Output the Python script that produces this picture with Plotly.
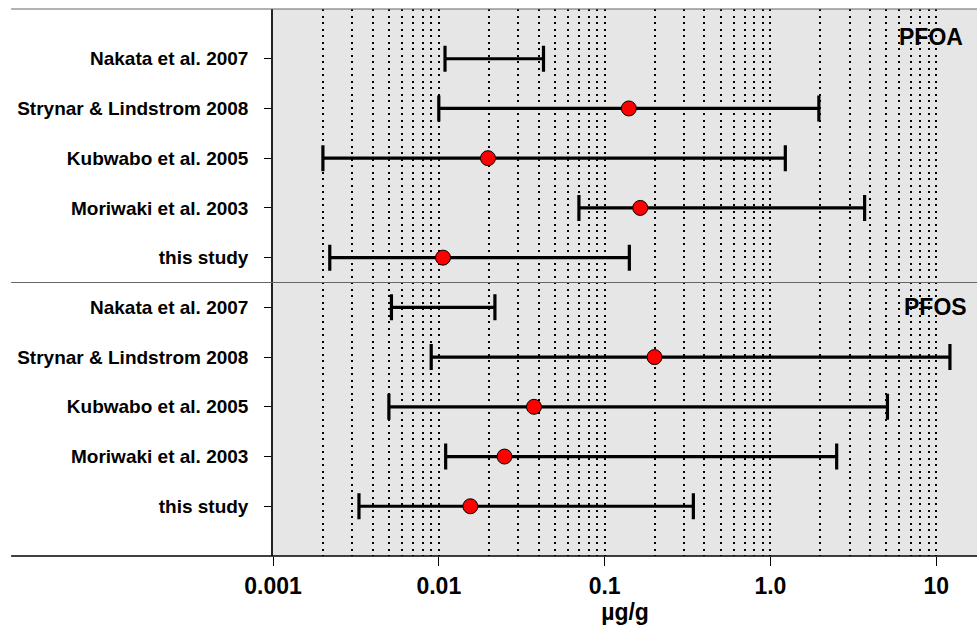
import plotly.graph_objects as go

# ---- data (µg/g) ----
studies = ["Nakata et al. 2007", "Strynar & Lindstrom 2008", "Kubwabo et al. 2005",
           "Moriwaki et al. 2003", "this study"]
compounds = ["PFOA", "PFOS"]

pfoa_low = [0.0109, 0.0100, 0.0020, 0.070, 0.0022]
pfoa_mid = [None, 0.140, 0.0198, 0.164, 0.0106]
pfoa_high = [0.0428, 1.96, 1.23, 3.7, 0.141]

pfos_low = [0.00518, 0.0090, 0.0050, 0.0110, 0.0033]
pfos_mid = [None, 0.200, 0.0375, 0.0249, 0.0155]
pfos_high = [0.0218, 12.1, 5.08, 2.51, 0.343]

x_tickvals = [0.001, 0.01, 0.1, 1, 10]
x_ticktext = ["0.001", "0.01", "0.1", "1.0", "10"]

FONT = "Liberation Sans, Arial, Helvetica, sans-serif"
n = len(studies)

fig = go.Figure()

groups = [(pfoa_low, pfoa_mid, pfoa_high), (pfos_low, pfos_mid, pfos_high)]
tickvals, ticktext = [], []
for g, (low, mid, high) in enumerate(groups):
    rows = [g * n + i + 1 for i in range(n)]
    tickvals += rows
    ticktext += studies
    anchor = [m if m is not None else lo for lo, m in zip(low, mid)]
    plus = [h - a for h, a in zip(high, anchor)]
    minus = [a - lo for a, lo in zip(anchor, low)]
    fig.add_trace(go.Scatter(
        x=anchor, y=rows, mode="markers",
        marker=dict(size=1, color="rgba(0,0,0,0)"),
        error_x=dict(type="data", symmetric=False, array=plus, arrayminus=minus,
                     color="black", thickness=3.2, width=13),
        showlegend=False, hoverinfo="skip"))
    mx = [m for m in mid if m is not None]
    my = [r for r, m in zip(rows, mid) if m is not None]
    fig.add_trace(go.Scatter(
        x=mx, y=my, mode="markers",
        marker=dict(size=15, color="#ff0000", line=dict(color="black", width=1)),
        showlegend=False))

fig.update_layout(
    width=977, height=627,
    margin=dict(l=273, r=0, t=9, b=71),
    paper_bgcolor="white", plot_bgcolor="#e6e6e6",
    font=dict(family=FONT, color="black"),
    xaxis=dict(
        type="log", range=[-3, 1.246],
        tickmode="array", tickvals=x_tickvals, ticktext=x_ticktext,
        ticks="outside", ticklen=9, tickcolor="black", tickwidth=1,
        tickfont=dict(size=23, weight="bold"),
        showgrid=True, gridcolor="black", gridwidth=1.8, griddash="2px,4.5px",
        minor=dict(dtick="D1", showgrid=True, gridcolor="black", gridwidth=1.8,
                   griddash="2px,4.5px", ticks=""),
        showline=False, zeroline=False,
        title=dict(text="µg/g", font=dict(size=23, weight="bold"), standoff=0),
    ),
    yaxis=dict(
        range=[2 * n + 1, 0],
        tickmode="array", tickvals=tickvals, ticktext=ticktext,
        ticks="outside", ticklen=7, tickcolor="black", tickwidth=1,
        tickfont=dict(size=19, weight="bold"),
        ticklabelstandoff=12,
        showgrid=False, zeroline=False,
        showline=True, linecolor="#222222", linewidth=1.5,
    ),
    shapes=[
        dict(type="line", xref="paper", yref="paper", x0=-0.372, x1=1, y0=1, y1=1,
             line=dict(color="#666666", width=1.2)),
        dict(type="line", xref="paper", yref="paper", x0=-0.372, x1=1, y0=0.5, y1=0.5,
             line=dict(color="#666666", width=1.2)),
        dict(type="line", xref="paper", yref="paper", x0=-0.372, x1=1, y0=0, y1=0,
             line=dict(color="black", width=1.5)),
    ],
    annotations=[
        dict(text=compounds[0], xref="paper", yref="y", x=0.983, y=0.57,
             xanchor="right", yanchor="middle", showarrow=False,
             font=dict(size=23, weight="bold")),
        dict(text=compounds[1], xref="paper", yref="y", x=0.988, y=6.0,
             xanchor="right", yanchor="middle", showarrow=False,
             font=dict(size=23, weight="bold")),
    ],
)

fig.write_html(
    "out.html",
    config={"displayModeBar": False},
    post_script="document.body.style.margin='0';document.body.style.padding='0';"
                "document.body.style.overflow='hidden';",
)
